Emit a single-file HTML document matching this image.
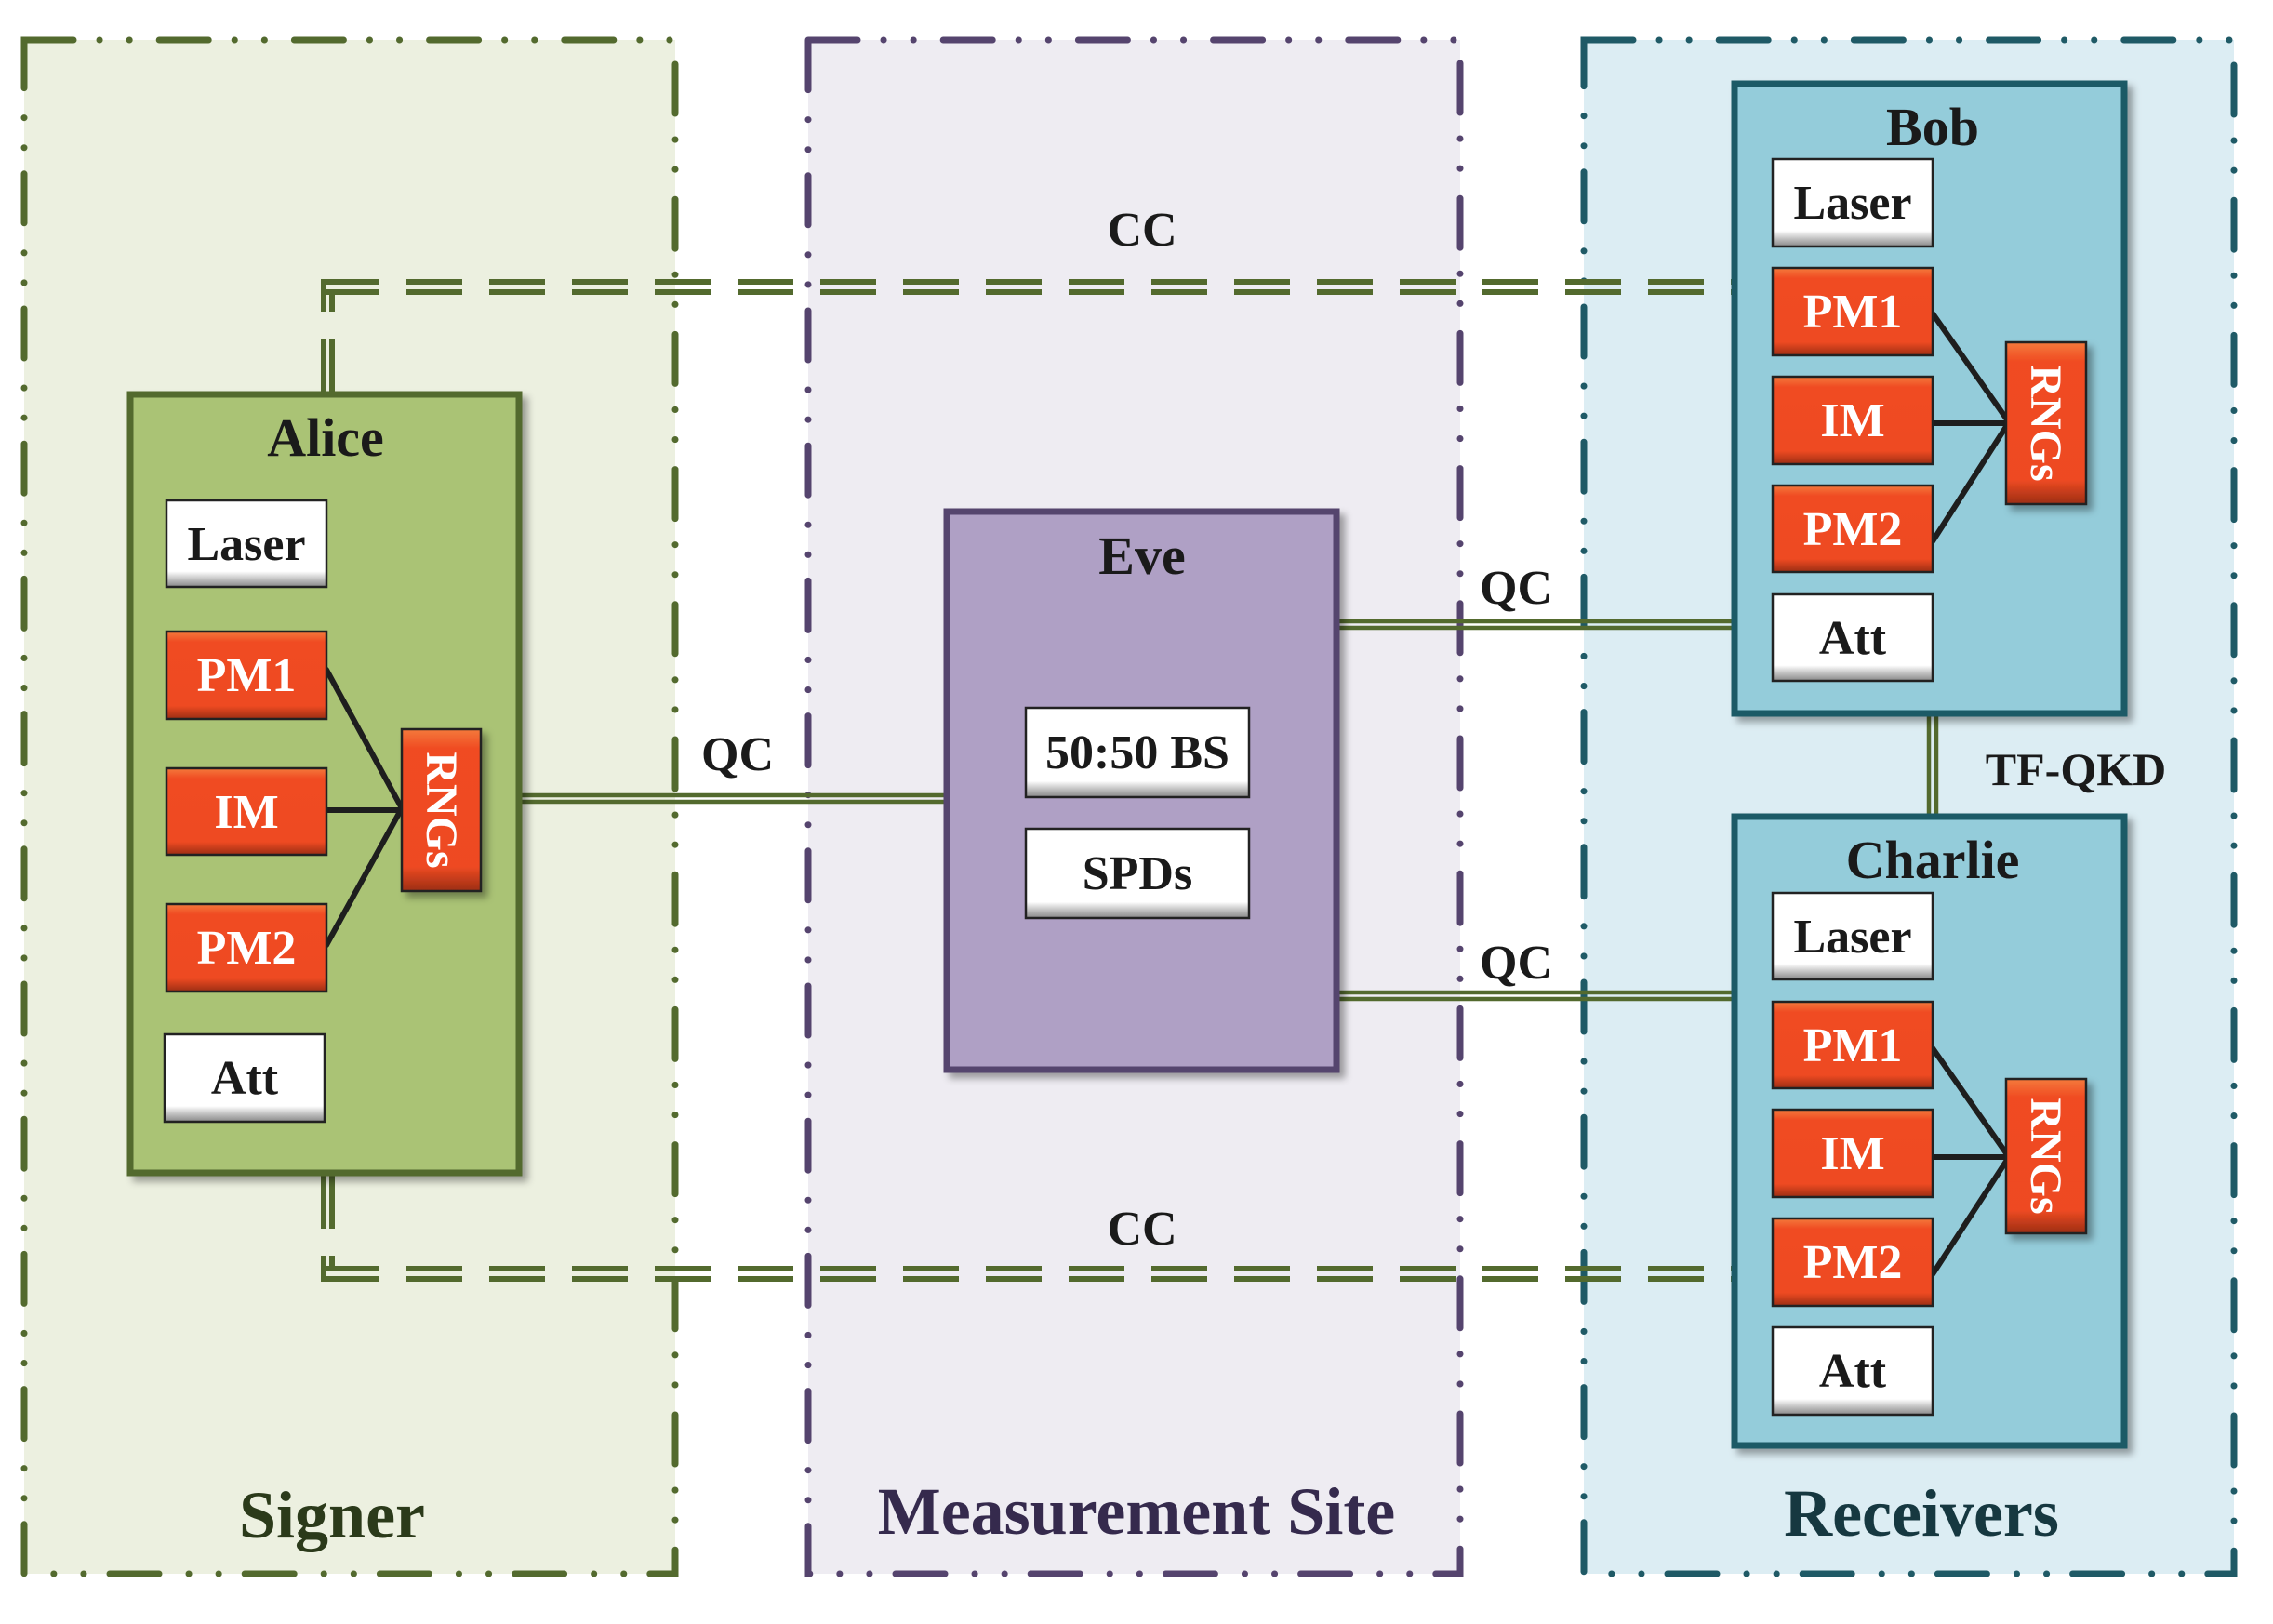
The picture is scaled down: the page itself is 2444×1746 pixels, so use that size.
<!DOCTYPE html>
<html><head><meta charset="utf-8"><style>
html,body{margin:0;padding:0;background:#fff}
svg{display:block}
text{font-family:"Liberation Serif",serif;font-weight:bold}
</style></head><body>
<svg width="2444" height="1746" viewBox="0 0 2444 1746" xmlns="http://www.w3.org/2000/svg">
<defs>
<linearGradient id="wg" x1="0" y1="0" x2="0" y2="1"><stop offset="0" stop-color="#fff"/><stop offset="0.82" stop-color="#fff"/><stop offset="0.92" stop-color="#bbb"/><stop offset="1" stop-color="#888"/></linearGradient>
<linearGradient id="og" x1="0" y1="0" x2="0" y2="1"><stop offset="0" stop-color="#f47a3c"/><stop offset="0.12" stop-color="#f04b22"/><stop offset="0.85" stop-color="#ee4a22"/><stop offset="1" stop-color="#9c2e14"/></linearGradient>
<filter id="sh" x="-10%" y="-10%" width="130%" height="130%"><feDropShadow dx="6" dy="6" stdDeviation="4" flood-color="#000" flood-opacity="0.35"/></filter>
</defs>

<!-- regions -->
<g stroke-width="7" stroke-linecap="round" stroke-dasharray="53 28 0.1 32 0.1 32">
<rect x="26" y="43" width="700" height="1649" fill="#ecf0e0" stroke="#536a2e"/>
<rect x="869" y="43" width="701" height="1649" fill="#eeecf2" stroke="#55446e"/>
<rect x="1703" y="43" width="699" height="1649" fill="#dcedf3" stroke="#1f5a66"/>
</g>

<!-- CC dashed lines -->
<g stroke="#536a2e" stroke-width="6" fill="none" stroke-dasharray="60 29">
<path d="M348 303 H1865"/>
<path d="M348 314 H1865"/>
<path d="M348 1364 H1865"/>
<path d="M348 1375 H1865"/>
<path d="M348 424 V300"/>
<path d="M357 424 V311"/>
<path d="M348 1261 V1378"/>
<path d="M357 1261 V1367"/>
</g>

<!-- QC lines -->
<g stroke="#536a2e" stroke-width="4.5" fill="none">
<path d="M558 855 H1017 M558 862 H1017"/>
<path d="M1440 668 H1865 M1440 675 H1865"/>
<path d="M1440 1067 H1865 M1440 1074 H1865"/>
<path d="M2074 767 V877 M2082 767 V877"/>
</g>

<!-- Labels -->
<g font-size="52" fill="#1a1a1a" text-anchor="middle">
<text x="1228" y="264">CC</text>
<text x="1228" y="1338">CC</text>
<text x="793" y="828">QC</text>
<text x="1630" y="649">QC</text>
<text x="1630" y="1052">QC</text>
<text x="2232" y="844" font-size="50">TF-QKD</text>
</g>
<g font-size="72" text-anchor="middle">
<text x="357" y="1653" fill="#2b3a1a">Signer</text>
<text x="1222" y="1649" fill="#352a4d">Measurement Site</text>
<text x="2066" y="1651" fill="#163840">Receivers</text>
</g>

<!-- Alice -->
<rect x="140" y="424" width="418" height="837" fill="#aac374" stroke="#536a2e" stroke-width="7" filter="url(#sh)"/>
<text x="350" y="490" font-size="58" text-anchor="middle" fill="#1a1a1a">Alice</text>
<!-- Eve -->
<rect x="1018" y="550" width="419" height="600" fill="#afa0c5" stroke="#55446e" stroke-width="7" filter="url(#sh)"/>
<text x="1228" y="617" font-size="58" text-anchor="middle" fill="#1a1a1a">Eve</text>
<!-- Bob -->
<rect x="1865" y="90" width="419" height="677" fill="#94ccda" stroke="#1f5a66" stroke-width="7" filter="url(#sh)"/>
<text x="2078" y="156" font-size="58" text-anchor="middle" fill="#1a1a1a">Bob</text>
<!-- Charlie -->
<rect x="1865" y="878" width="419" height="676" fill="#94ccda" stroke="#1f5a66" stroke-width="7" filter="url(#sh)"/>
<text x="2078" y="944" font-size="58" text-anchor="middle" fill="#1a1a1a">Charlie</text>

<!-- connector lines -->
<g stroke="#1e1e1e" stroke-width="6" fill="none" stroke-linecap="round">
<path d="M351 720 L432 869 M351 871 H432 M351 1016 L432 869"/>
<path d="M2078 337 L2160 454 M2078 455 H2160 M2078 582 L2160 454"/>
<path d="M2078 1127 L2160 1244 M2078 1244 H2160 M2078 1370 L2160 1244"/>
</g>

<!-- items -->
<g stroke="#222" stroke-width="2.5">
<rect x="179" y="538" width="172" height="93" fill="url(#wg)"/>
<rect x="179" y="679" width="172" height="94" fill="url(#og)"/>
<rect x="179" y="826" width="172" height="93" fill="url(#og)"/>
<rect x="179" y="972" width="172" height="94" fill="url(#og)"/>
<rect x="177" y="1112" width="172" height="94" fill="url(#wg)"/>
<rect x="432" y="784" width="85" height="174" fill="url(#og)" filter="url(#sh)"/>
<rect x="1103" y="761" width="240" height="96" fill="url(#wg)"/>
<rect x="1103" y="891" width="240" height="96" fill="url(#wg)"/>
<rect x="1906" y="171" width="172" height="94" fill="url(#wg)"/>
<rect x="1906" y="288" width="172" height="94" fill="url(#og)"/>
<rect x="1906" y="405" width="172" height="94" fill="url(#og)"/>
<rect x="1906" y="522" width="172" height="93" fill="url(#og)"/>
<rect x="1906" y="639" width="172" height="93" fill="url(#wg)"/>
<rect x="2157" y="368" width="86" height="174" fill="url(#og)" filter="url(#sh)"/>
<rect x="1906" y="960" width="172" height="93" fill="url(#wg)"/>
<rect x="1906" y="1077" width="172" height="93" fill="url(#og)"/>
<rect x="1906" y="1193" width="172" height="94" fill="url(#og)"/>
<rect x="1906" y="1310" width="172" height="94" fill="url(#og)"/>
<rect x="1906" y="1427" width="172" height="94" fill="url(#wg)"/>
<rect x="2157" y="1160" width="86" height="166" fill="url(#og)" filter="url(#sh)"/>
</g>

<g font-size="52" text-anchor="middle">
<text x="265" y="602" fill="#1a1a1a">Laser</text>
<text x="265" y="743" fill="#fff">PM1</text>
<text x="265" y="890" fill="#fff">IM</text>
<text x="265" y="1036" fill="#fff">PM2</text>
<text x="263" y="1176" fill="#1a1a1a">Att</text>
<text x="1223" y="826" fill="#1a1a1a">50:50 BS</text>
<text x="1223" y="956" fill="#1a1a1a">SPDs</text>
<text x="1992" y="235" fill="#1a1a1a">Laser</text>
<text x="1992" y="352" fill="#fff">PM1</text>
<text x="1992" y="469" fill="#fff">IM</text>
<text x="1992" y="586" fill="#fff">PM2</text>
<text x="1992" y="703" fill="#1a1a1a">Att</text>
<text x="1992" y="1024" fill="#1a1a1a">Laser</text>
<text x="1992" y="1141" fill="#fff">PM1</text>
<text x="1992" y="1257" fill="#fff">IM</text>
<text x="1992" y="1374" fill="#fff">PM2</text>
<text x="1992" y="1491" fill="#1a1a1a">Att</text>
</g>
<g font-size="48" fill="#fff" text-anchor="middle">
<text transform="translate(459 871) rotate(90)">RNGs</text>
<text transform="translate(2184 455) rotate(90)">RNGs</text>
<text transform="translate(2184 1243) rotate(90)">RNGs</text>
</g>
</svg>
</body></html>
